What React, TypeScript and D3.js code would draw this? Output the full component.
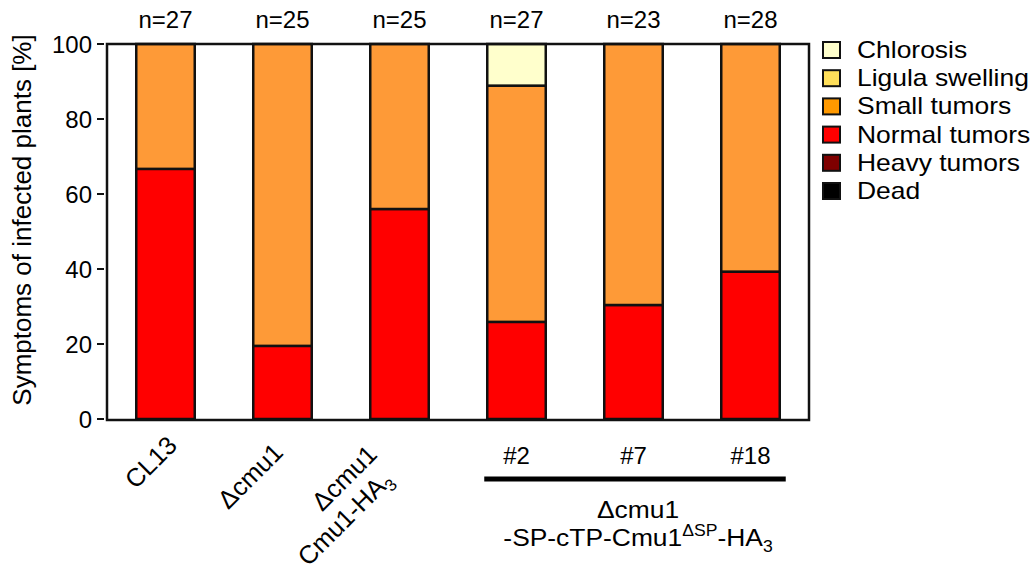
import React from 'react'
import * as d3 from 'd3'

// strains, sample sizes and symptom percentages
const strains = ['CL13', 'dcmu1', 'dcmu1-HA3', '#2', '#7', '#18']
const nValues = [27, 25, 25, 27, 23, 28]
const chlorosis = [0, 0, 0, 11.1, 0, 0]
const ligula = [0, 0, 0, 0, 0, 0]
const smallTumors = [33.3, 80.5, 44, 63, 69.6, 60.7]
const normalTumors = [66.7, 19.5, 56, 25.9, 30.4, 39.3]
const heavyTumors = [0, 0, 0, 0, 0, 0]
const dead = [0, 0, 0, 0, 0, 0]
const yTicks = [0, 20, 40, 60, 80, 100]

const categories = ['Chlorosis', 'Ligula swelling', 'Small tumors', 'Normal tumors', 'Heavy tumors', 'Dead']
const colors = ['#ffffcc', '#ffdd55', '#fe9a37', '#ff0000', '#7f0000', '#000000']
const legendColors = ['#ffffcc', '#ffdf5a', '#ff9900', '#ff0000', '#7f0000', '#000000']
const seriesByCat = [chlorosis, ligula, smallTumors, normalTumors, heavyTumors, dead]

const font = '"Liberation Sans", Arial, sans-serif'
const fs = 24

export default function App() {
  const W = 1034, H = 571
  const left = 107, right = 809, top = 44, bottom = 420

  const x = d3.scaleBand<string>().domain(strains).range([left, right])
    .paddingInner(0.5).paddingOuter(0.25)
  const y = d3.scaleLinear().domain([0, 100]).range([419, 44])

  // stack bottom-up: Dead ... Chlorosis
  const keys = categories.slice().reverse()
  const rows = strains.map((s, i) => {
    const r: any = { strain: s }
    categories.forEach((c, j) => { r[c] = seriesByCat[j][i] })
    return r
  })
  const stacked = d3.stack<any>().keys(keys)(rows)
  const colorOf = (k: string) => colors[categories.indexOf(k)]

  const cx = (s: string) => (x(s) as number) + x.bandwidth() / 2
  const groupStart = (x('#2') as number) - 3
  const groupEnd = (x('#18') as number) + x.bandwidth() + 6
  const groupMid = (groupStart + groupEnd) / 2

  // rotated strain labels, end anchored
  const rotLabel = (s: string, dx: number, ay: number, lines: React.ReactNode[]) => (
    <text key={s} transform={`translate(${cx(s) + dx},${ay}) rotate(-45)`} textAnchor="end"
      fontSize={25.5} fontFamily={font}>
      {lines.map((l, i) => <tspan key={i} x={-7 * i} y={i * 29}>{l}</tspan>)}
    </text>
  )

  return (
    <svg width={W} height={H} style={{ position: 'absolute', left: 0, top: 0, background: '#fff' }}>
      {/* bars */}
      {stacked.map(layer => (
        <g key={layer.key} fill={colorOf(layer.key)}>
          {layer.filter(d => d[1] - d[0] > 0).map(d => (
            <rect key={d.data.strain} x={x(d.data.strain)} width={x.bandwidth()}
              y={y(d[1])} height={y(d[0]) - y(d[1])}
              stroke="#111" strokeWidth={2.5} />
          ))}
        </g>
      ))}
      {/* frame */}
      <rect x={left} y={top} width={right - left} height={bottom - top} fill="none" stroke="#111" strokeWidth={2.5} />
      {/* y axis ticks */}
      {yTicks.map(t => (
        <g key={t}>
          <line x1={97} x2={104} y1={y(t)} y2={y(t)} stroke="#111" strokeWidth={2} />
          <text x={92} y={y(t)} dy="0.36em" textAnchor="end" fontSize={fs} fontFamily={font}>{t}</text>
        </g>
      ))}
      <text transform={`translate(31,220) rotate(-90)`} textAnchor="middle"
        fontSize={26} fontFamily={font}>Symptoms of infected plants [%]</text>
      {/* n labels */}
      {strains.map((s, i) => (
        <text key={s} x={cx(s)} y={28} textAnchor="middle" fontSize={fs} fontFamily={font}>n={nValues[i]}</text>
      ))}
      {/* x labels */}
      {rotLabel('CL13', 13, 447, ['CL13'])}
      {rotLabel('dcmu1', 2, 454, ['Δcmu1'])}
      {rotLabel('dcmu1-HA3', -21, 456, ['Δcmu1', <>Cmu1-HA<tspan fontSize={17} dy={6}>3</tspan></>])}
      {['#2', '#7', '#18'].map(s => (
        <text key={s} x={cx(s)} y={464} textAnchor="middle" fontSize={fs} fontFamily={font}>{s}</text>
      ))}
      <line x1={groupStart} x2={groupEnd} y1={479} y2={479} stroke="#000" strokeWidth={5} />
      <g transform={`translate(${groupMid + 3},0) scale(1.1,1)`}>
        <text x={0} y={518} textAnchor="middle" fontSize={fs} fontFamily={font}>Δcmu1</text>
        <text x={0} y={546} textAnchor="middle" fontSize={fs} fontFamily={font}>
          -SP-cTP-Cmu1<tspan fontSize={16} dy={-10}>ΔSP</tspan><tspan dy={10}>-HA</tspan><tspan fontSize={16} dy={6}>3</tspan>
        </text>
      </g>
      {/* legend */}
      {categories.map((c, i) => (
        <g key={c} transform={`translate(823,${42 + i * 28.2})`}>
          <rect x={0} y={0} width={17} height={16} fill={legendColors[i]} stroke="#111" strokeWidth={2} />
          <text transform="translate(34,16) scale(1.15,1)" fontSize={23} fontFamily={font}>{c}</text>
        </g>
      ))}
    </svg>
  )
}
